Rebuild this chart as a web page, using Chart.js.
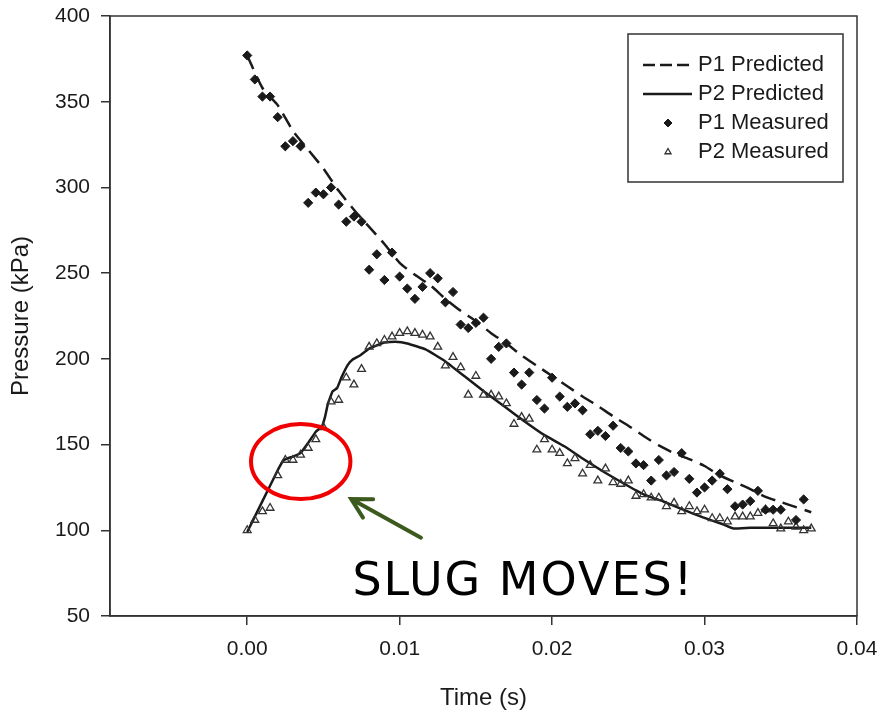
<!DOCTYPE html>
<html>
<head>
<meta charset="utf-8">
<script src="https://cdn.jsdelivr.net/npm/chart.js@4.4.0/dist/chart.umd.min.js"></script>
<style>
    html, body { margin: 0; padding: 0; background: #fff; }
</style>
</head>
<body>
<canvas id="pressureChart" width="881" height="717"></canvas>
<script>
// measured samples every 0.5 ms
const timeMeasured = [
    0.0000, 0.0005, 0.0010, 0.0015, 0.0020, 0.0025, 0.0030, 0.0035, 0.0040, 0.0045,
    0.0050, 0.0055, 0.0060, 0.0065, 0.0070, 0.0075, 0.0080, 0.0085, 0.0090, 0.0095,
    0.0100, 0.0105, 0.0110, 0.0115, 0.0120, 0.0125, 0.0130, 0.0135, 0.0140, 0.0145,
    0.0150, 0.0155, 0.0160, 0.0165, 0.0170, 0.0175, 0.0180, 0.0185, 0.0190, 0.0195,
    0.0200, 0.0205, 0.0210, 0.0215, 0.0220, 0.0225, 0.0230, 0.0235, 0.0240, 0.0245,
    0.0250, 0.0255, 0.0260, 0.0265, 0.0270, 0.0275, 0.0280, 0.0285, 0.0290, 0.0295,
    0.0300, 0.0305, 0.0310, 0.0315, 0.0320, 0.0325, 0.0330, 0.0335, 0.0340, 0.0345,
    0.0350, 0.0355, 0.0360, 0.0365, 0.0370
];
const p1Measured = [
    377, 363, 353, 353, 341, 324, 327, 324, 291, 297,
    296, 300, 290, 280, 283, 280, 252, 261, 246, 262,
    248, 241, 235, 242, 250, 247, 233, 239, 220, 218,
    221, 224, 200, 207, 209, 192, 185, 192, 176, 171,
    189, 178, 172, 174, 170, 156, 158, 155, 161, 148,
    146, 139, 138, 129, 141, 132, 134, 145, 130, 122,
    125, 129, 133, 124, 114, 115, 117, 123, 112, 112,
    112, null, 106, 118, null
];
const p2Measured = [
    100, 106, 111, 113, 132, 141, 141, 144, 148, 153,
    160, 175, 176, 189, 185, 194, 207, 209, 211, 213,
    215, 216, 215, 214, 213, 207, 196, 201, 195, 179,
    190, 179, 179, 178, 174, 162, 166, 165, 147, 153,
    147, 145, 139, 142, 133, 138, 129, 136, 128, 127,
    129, 120, 121, 119, 119, 114, 116, 111, 114, 111,
    112, 107, 107, 105, 108, 108, 108, 110, 112, 104,
    101, 105, 102, 100, 101
];

// model curves
const timeP1Predicted = [
    0.000, 0.001, 0.002, 0.003, 0.004, 0.005, 0.006, 0.007, 0.008, 0.009,
    0.010, 0.011, 0.012, 0.013, 0.014, 0.015, 0.016, 0.017, 0.018, 0.019,
    0.020, 0.021, 0.022, 0.023, 0.024, 0.025, 0.026, 0.027, 0.028, 0.029,
    0.030, 0.031, 0.032, 0.033, 0.034, 0.035, 0.036, 0.037
];
const p1Predicted = [
    377, 358, 348, 333, 322, 311, 298, 287, 277, 267,
    256, 249, 243, 235, 228, 222, 215, 209, 202, 196,
    190, 184, 178, 172.5, 166.5, 161, 155, 149.5, 145, 141.5,
    137.5, 132, 128, 124, 119.5, 116.5, 113.5, 110.5
];
const timeP2Predicted = [
    0.0000, 0.0010, 0.0020, 0.0024, 0.0030, 0.0035, 0.0040, 0.0045, 0.0049, 0.0051,
    0.0053, 0.0056, 0.0059, 0.0062, 0.0066, 0.0069, 0.0074, 0.0080, 0.0090, 0.0097,
    0.0105, 0.0117, 0.0130, 0.0143, 0.0156, 0.0169, 0.0182, 0.0195, 0.0208, 0.0221,
    0.0234, 0.0247, 0.0260, 0.0273, 0.0286, 0.0299, 0.0312, 0.0319, 0.0330, 0.0340,
    0.0350, 0.0360, 0.0370
];
const p2Predicted = [
    99, 117, 135, 141, 143, 145, 151, 157.5, 160.5, 166,
    174, 181, 183, 189.5, 196.5, 199.5, 202, 206, 209.5, 210,
    209, 205.5, 198.5, 189.5, 180.5, 172, 163.5, 155.5, 149, 141.3,
    134, 127.3, 121, 116.8, 112, 107.5, 103.5, 101, 101.5, 101.5,
    101.5, 101.5, 101.5
];

const xTicks = [0.00, 0.01, 0.02, 0.03, 0.04];
const yTicks = [50, 100, 150, 200, 250, 300, 350, 400];

const pairs = (xs, ys) => xs.map((x, i) => ({ x: x, y: ys[i] }));

const sansFont = '"Liberation Sans", Arial, sans-serif';
const ink = '#1a1a1a';

// keep tick-label overflow from shrinking the plot area
function pinScale(scale, size) {
    if (scale.isHorizontal()) scale.height = size; else scale.width = size;
    scale.paddingTop = 0;
    scale.paddingBottom = 0;
    scale.paddingLeft = 0;
    scale.paddingRight = 0;
}

// frame round the plot area
const frame = {
    id: 'frame',
    afterDraw(chart) {
        const { ctx, chartArea: a } = chart;
        ctx.save();
        ctx.strokeStyle = '#333';
        ctx.lineWidth = 1.5;
        ctx.strokeRect(a.left, a.top, a.right - a.left, a.bottom - a.top);
        ctx.restore();
    }
};

// boxed legend inside the top-right corner
const legendBox = {
    id: 'legendBox',
    afterDatasetsDraw(chart) {
        const { ctx, chartArea } = chart;
        const w = 215, h = 148;
        const x = chartArea.right - 14 - w;
        const y = chartArea.top + 18;
        ctx.save();
        ctx.fillStyle = '#fff';
        ctx.fillRect(x, y, w, h);
        ctx.strokeStyle = '#333';
        ctx.lineWidth = 1.5;
        ctx.strokeRect(x, y, w, h);
        chart.data.datasets.forEach((ds, i) => {
            const cy = y + 31 + i * 29;
            if (ds.showLine) {
                ctx.beginPath();
                ctx.setLineDash(ds.borderDash && ds.borderDash.length ? [12, 5] : []);
                ctx.lineWidth = 2.5;
                ctx.strokeStyle = ds.borderColor;
                ctx.moveTo(x + 15, cy);
                ctx.lineTo(x + 64, cy);
                ctx.stroke();
                ctx.setLineDash([]);
            } else {
                ctx.fillStyle = ds.backgroundColor;
                ctx.strokeStyle = ds.borderColor;
                ctx.lineWidth = ds.pointBorderWidth;
                Chart.helpers.drawPoint(ctx, {
                    pointStyle: ds.pointStyle,
                    radius: ds.pointStyle === 'triangle' ? 3.5 : 4,
                    borderWidth: ds.pointBorderWidth,
                    rotation: 0
                }, x + 40, cy);
            }
            ctx.fillStyle = ink;
            ctx.font = '22px ' + sansFont;
            ctx.textBaseline = 'middle';
            ctx.textAlign = 'left';
            ctx.fillText(ds.label, x + 70, cy);
        });
        ctx.restore();
    }
};

// red circle, arrow and caption, placed in data units
const slugNote = {
    id: 'slugNote',
    afterDraw(chart) {
        const { ctx } = chart;
        const xs = chart.scales.x, ys = chart.scales.y;
        ctx.save();
        const cx = xs.getPixelForValue(0.00351), cy = ys.getPixelForValue(140.1);
        const rx = xs.getPixelForValue(0.00351 + 0.00326) - cx;
        const ry = cy - ys.getPixelForValue(140.1 + 21.9);
        ctx.beginPath();
        ctx.ellipse(cx, cy, rx, ry, 0, 0, Math.PI * 2);
        ctx.strokeStyle = '#f00000';
        ctx.lineWidth = 4;
        ctx.stroke();

        const tipX = xs.getPixelForValue(0.00682), tipY = ys.getPixelForValue(118.2);
        const tailX = xs.getPixelForValue(0.0114), tailY = ys.getPixelForValue(95.7);
        const ang = Math.atan2(tailY - tipY, tailX - tipX);
        ctx.strokeStyle = '#3d5a1e';
        ctx.lineWidth = 4;
        ctx.lineCap = 'round';
        ctx.beginPath();
        ctx.moveTo(tailX, tailY);
        ctx.lineTo(tipX, tipY);
        ctx.moveTo(tipX + 22 * Math.cos(ang - 0.5), tipY + 22 * Math.sin(ang - 0.5));
        ctx.lineTo(tipX, tipY);
        ctx.lineTo(tipX + 22 * Math.cos(ang + 0.5), tipY + 22 * Math.sin(ang + 0.5));
        ctx.stroke();

        ctx.fillStyle = '#000';
        ctx.font = '46px "DejaVu Sans", Verdana, sans-serif';
        ctx.letterSpacing = '2px';
        ctx.textBaseline = 'alphabetic';
        ctx.textAlign = 'left';
        ctx.fillText('SLUG MOVES!', xs.getPixelForValue(0.0069), ys.getPixelForValue(62.3));
        ctx.restore();
    }
};

const ctx = document.getElementById('pressureChart').getContext('2d');
new Chart(ctx, {
    type: 'scatter',
    data: {
        datasets: [
            {
                label: 'P1 Predicted',
                data: pairs(timeP1Predicted, p1Predicted),
                showLine: true,
                borderColor: ink,
                borderWidth: 2.5,
                borderDash: [15, 8],
                pointRadius: 0,
                tension: 0.2,
                order: 3
            },
            {
                label: 'P2 Predicted',
                data: pairs(timeP2Predicted, p2Predicted),
                showLine: true,
                borderColor: ink,
                borderWidth: 2.5,
                pointRadius: 0,
                tension: 0.1,
                order: 4
            },
            {
                label: 'P1 Measured',
                data: pairs(timeMeasured, p1Measured),
                showLine: false,
                pointStyle: 'rectRot',
                pointRadius: 4.6,
                pointBorderWidth: 1,
                backgroundColor: ink,
                borderColor: ink,
                order: 1
            },
            {
                label: 'P2 Measured',
                data: pairs(timeMeasured, p2Measured),
                showLine: false,
                pointStyle: 'triangle',
                pointRadius: 4.5,
                pointBorderWidth: 1.3,
                backgroundColor: 'rgba(255,255,255,0)',
                borderColor: '#333',
                order: 2
            }
        ]
    },
    options: {
        responsive: false,
        animation: false,
        layout: { padding: { top: 16, right: 24, left: 0, bottom: 0 } },
        plugins: {
            legend: { display: false },
            tooltip: { enabled: false }
        },
        scales: {
            x: {
                type: 'linear',
                min: -0.009,
                max: 0.04,
                afterBuildTicks: (scale) => { scale.ticks = xTicks.map(v => ({ value: v })); },
                afterFit: (scale) => pinScale(scale, 101),
                grid: { drawOnChartArea: false, drawTicks: true, tickLength: 9, color: '#333', lineWidth: 1.5 },
                border: { display: true, color: '#333', width: 1.5 },
                ticks: {
                    color: ink,
                    padding: 12,
                    font: { family: sansFont, size: 21 },
                    callback: (v) => v.toFixed(2)
                },
                title: {
                    display: true,
                    text: 'Time (s)',
                    color: ink,
                    font: { family: sansFont, size: 24 },
                    padding: { top: 0, bottom: 4 }
                }
            },
            y: {
                type: 'linear',
                min: 50,
                max: 400,
                afterBuildTicks: (scale) => { scale.ticks = yTicks.map(v => ({ value: v })); },
                afterFit: (scale) => pinScale(scale, 110),
                grid: { drawOnChartArea: false, drawTicks: true, tickLength: 9, color: '#333', lineWidth: 1.5 },
                border: { display: true, color: '#333', width: 1.5 },
                ticks: {
                    color: ink,
                    padding: 11,
                    font: { family: sansFont, size: 21 }
                },
                title: {
                    display: true,
                    text: 'Pressure (kPa)',
                    color: ink,
                    font: { family: sansFont, size: 24 },
                    padding: { top: 7, bottom: 0 }
                }
            }
        }
    },
    plugins: [frame, legendBox, slugNote]
});
</script>
</body>
</html>
